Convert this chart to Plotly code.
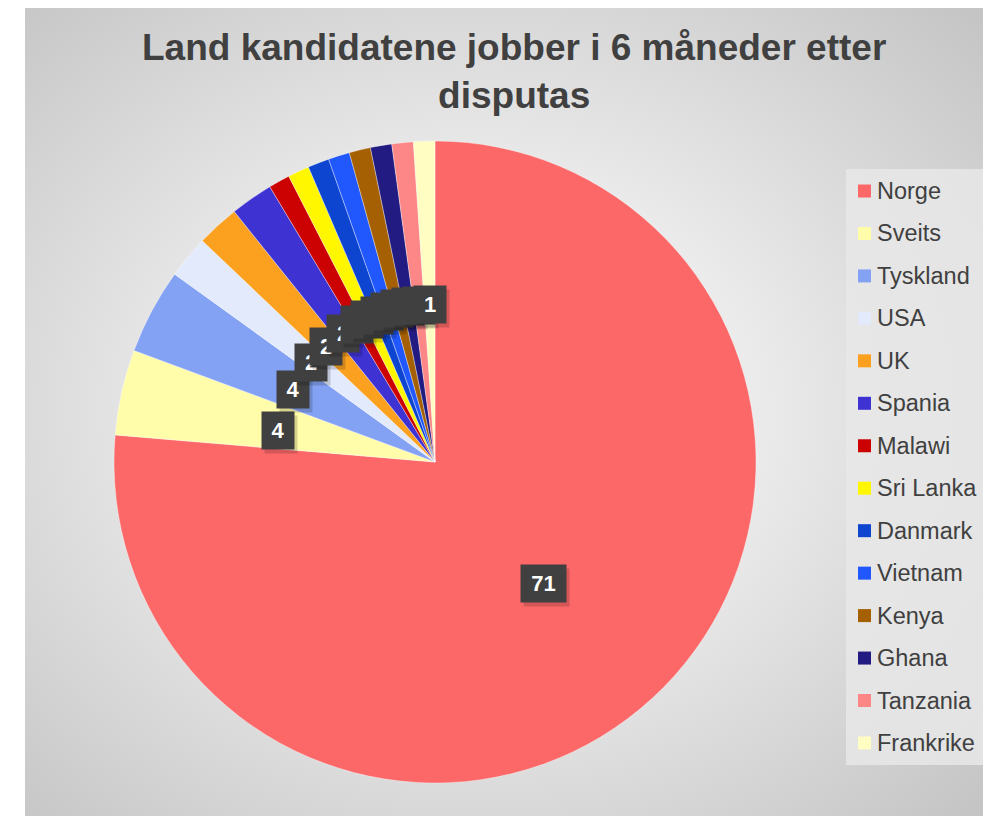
import base64, math
import plotly.graph_objects as go

# ---- data ----
countries = ["Norge", "Sveits", "Tyskland", "USA", "UK", "Spania", "Malawi",
             "Sri Lanka", "Danmark", "Vietnam", "Kenya", "Ghana", "Tanzania", "Frankrike"]
counts = [71, 4, 4, 2, 2, 2, 1, 1, 1, 1, 1, 1, 1, 1]
colors = ["#FC6868", "#FFFCAA", "#84A2F4", "#E3EAFC", "#FCA11F", "#3F32D2", "#CC0202",
          "#FFF700", "#0E45D0", "#2158FE", "#A56003", "#221B82", "#FD8686", "#FFFDC2"]
title_text = "Land kandidatene jobber i 6 måneder etter<br>disputas"

# ---- page geometry: the page body adds an 8px offset ----
OFF = 8
W, H = 991 - OFF, 816 - OFF


def fx(px):  # screen px -> paper x
    return (px - OFF) / W


def fy(py):  # screen px -> paper y
    return 1 - (py - OFF) / H


CX, CY, R = 435, 462, 321
dom_x = [fx(CX - R), fx(CX + R)]
dom_y = [fy(CY + R), fy(CY - R)]

FONT = "Liberation Sans, Arial"

fig = go.Figure(go.Pie(
    labels=countries, values=counts, sort=False, direction="clockwise", rotation=0,
    marker=dict(colors=colors, line=dict(color="rgba(255,255,255,0.6)", width=0.6)),
    textinfo="none", hoverinfo="label+value", showlegend=False,
    domain=dict(x=dom_x, y=dom_y),
))

annotations = []
# title
annotations.append(dict(x=fx(514), y=fy(72), xref="paper", yref="paper", showarrow=False,
                        text="<b>" + title_text + "</b>", xanchor="center", yanchor="middle",
                        font=dict(family=FONT, size=37, color="#404040")))

# data labels: dark boxes (with a soft shadow) at about half radius of each slice's mid angle
total = sum(counts)
cum = 0
for c, v in zip(countries, counts):
    mid = (cum + v / 2) / total * 2 * math.pi
    cum += v
    rl = 0.5 * R
    px = CX + rl * math.sin(mid)
    py = CY - rl * math.cos(mid) + 3
    bw = 11 + 13 * len(str(v))
    annotations.append(dict(
        x=fx(px + 3), y=fy(py + 4), xref="paper", yref="paper", showarrow=False,
        text=" ", font=dict(family=FONT, size=22, color="rgba(0,0,0,0)"),
        bgcolor="rgba(0,0,0,0.16)", borderpad=4, width=bw, height=29,
        xanchor="center", yanchor="middle"))
    annotations.append(dict(
        x=fx(px), y=fy(py), xref="paper", yref="paper", showarrow=False,
        text=str(v), font=dict(family=FONT, size=22, color="white", weight="bold"),
        bgcolor="#404040", borderpad=4, width=bw, height=29,
        xanchor="center", yanchor="middle"))

# manual legend
shapes = [dict(type="rect", xref="paper", yref="paper", x0=fx(846), x1=fx(988),
               y0=fy(765), y1=fy(169), fillcolor="rgba(232,232,232,0.85)",
               line=dict(width=0), layer="below")]
LY0, LDY = 191, 42.46
for i, (c, col) in enumerate(zip(countries, colors)):
    yc = LY0 + i * LDY
    shapes.append(dict(type="rect", xref="paper", yref="paper",
                       x0=fx(858), x1=fx(871), y0=fy(yc + 6.5), y1=fy(yc - 6.5),
                       fillcolor=col, line=dict(width=0)))
    annotations.append(dict(x=fx(875), y=fy(yc), xref="paper", yref="paper", showarrow=False,
                            text=c, xanchor="left", yanchor="middle",
                            font=dict(family=FONT, size=23.5, color="#404040")))

# white outer strip on the left
shapes.append(dict(type="rect", xref="paper", yref="paper", x0=0, x1=fx(25), y0=0, y1=1,
                   fillcolor="white", line=dict(width=0), layer="below"))

svg = ('<svg xmlns="http://www.w3.org/2000/svg" width="966" height="810" viewBox="0 0 966 810" preserveAspectRatio="none">'
       '<defs><radialGradient id="g" cx="0.47" cy="0.5" r="0.72">'
       '<stop offset="0" stop-color="#f4f4f4"/><stop offset="0.4" stop-color="#ebebeb"/>'
       '<stop offset="1" stop-color="#c4c4c4"/></radialGradient></defs>'
       '<rect width="966" height="810" fill="url(#g)"/></svg>')
src = "data:image/svg+xml;base64," + base64.b64encode(svg.encode()).decode()

fig.update_layout(
    width=W, height=H, margin=dict(l=0, r=0, t=0, b=0, autoexpand=False),
    paper_bgcolor="white", plot_bgcolor="rgba(0,0,0,0)",
    images=[dict(source=src, xref="paper", yref="paper", x=fx(25), y=1,
                 sizex=1 - fx(25), sizey=1, sizing="stretch", layer="below")],
    shapes=shapes, annotations=annotations,
)
fig.write_html("out.html")
